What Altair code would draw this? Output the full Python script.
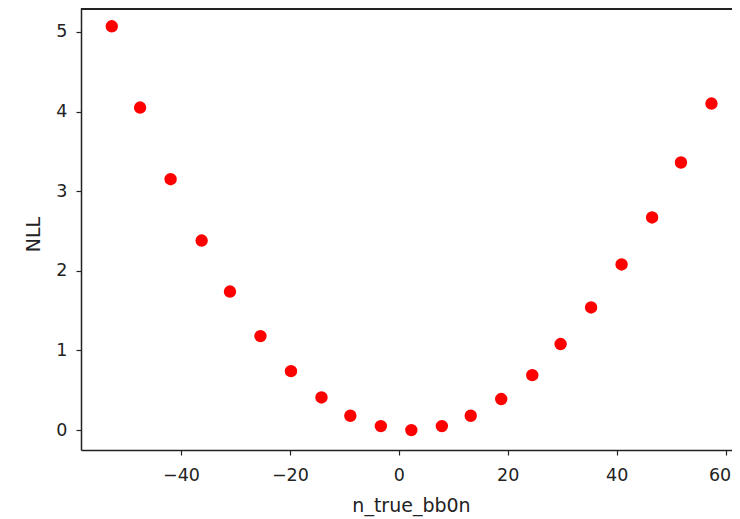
import altair as alt
import pandas as pd

# values
n_true_bb0n = [-52.7, -47.5, -41.9, -36.2, -31.0, -25.4, -19.8, -14.2, -8.9, -3.3,
               2.3, 7.9, 13.2, 18.8, 24.5, 29.7, 35.3, 40.9, 46.5, 51.8, 57.4]
nll = [5.07, 4.05, 3.15, 2.38, 1.74, 1.18, 0.74, 0.41, 0.18, 0.05,
       0.0, 0.05, 0.18, 0.39, 0.69, 1.08, 1.54, 2.08, 2.67, 3.36, 4.10]
x_ticks = [-40, -20, 0, 20, 40, 60]
y_ticks = [0, 1, 2, 3, 4, 5]

df = pd.DataFrame({"n_true_bb0n": n_true_bb0n, "NLL": nll})

W, H = 651, 442
FONT = "DejaVu Sans"
SPINE = "#222222"

points = alt.Chart(df).mark_circle(size=154, color="#ff0000", opacity=1).encode(
    x=alt.X("n_true_bb0n:Q",
            scale=alt.Scale(domain=[-58.35, 61.17], nice=False, zero=False),
            axis=alt.Axis(values=x_ticks, grid=False, title="n_true_bb0n",
                          domainColor=SPINE, domainWidth=1.5,
                          tickColor=SPINE, tickSize=5, tickWidth=1.2,
                          labelFont=FONT, labelFontSize=17.5, labelColor="#222",
                          labelBaseline="alphabetic", labelPadding=25,
                          labelOffset={"expr": "datum.value == 60 ? -6 : 0"},
                          titleFont=FONT, titleFontSize=19, titleFontWeight="normal",
                          titleColor="#222", titleBaseline="alphabetic",
                          titleX=330, titleY=61)),
    y=alt.Y("NLL:Q",
            scale=alt.Scale(domain=[-0.25, 5.30], nice=False, zero=False),
            axis=alt.Axis(values=y_ticks, grid=False, title="NLL",
                          domainColor=SPINE, domainWidth=1.5,
                          tickColor=SPINE, tickSize=5, tickWidth=1.2,
                          labelFont=FONT, labelFontSize=17.5, labelColor="#222",
                          labelPadding=9,
                          titleFont=FONT, titleFontSize=19, titleFontWeight="normal",
                          titleColor="#222", titleAngle=270, titleAlign="center",
                          titleBaseline="middle", titleX=-48, titleY=226)),
)

top_spine = alt.Chart(df).mark_rule(color=SPINE, strokeWidth=1.5).encode(
    x=alt.value(0), x2=alt.value(W), y=alt.value(0.5)
)

chart = alt.layer(points, top_spine).properties(
    width=W, height=H,
    autosize=alt.AutoSizeParams(type="none"),
    padding={"left": 73, "top": 0, "right": 0, "bottom": 70},
    background="white",
).configure_view(stroke=None)

chart.save("out.html", embed_options={"renderer": "svg", "actions": False})
